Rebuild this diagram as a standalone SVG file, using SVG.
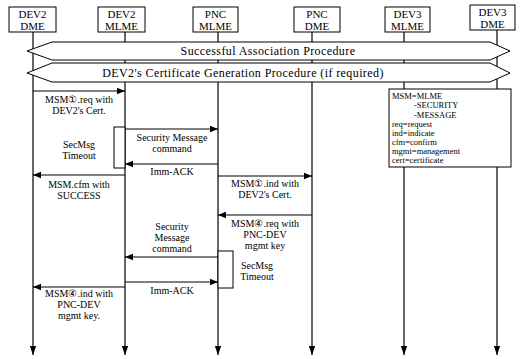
<svg xmlns="http://www.w3.org/2000/svg" width="524" height="359" viewBox="0 0 524 359">
<defs>
<marker id="ah" viewBox="0 0 10 10" refX="10" refY="5" markerWidth="8" markerHeight="8" markerUnits="userSpaceOnUse" orient="auto"><path d="M0,1 L10,5 L0,9 z" fill="#000"/></marker>
<marker id="ahl" viewBox="0 0 10 10" refX="10" refY="5" markerWidth="9" markerHeight="9" markerUnits="userSpaceOnUse" orient="auto"><path d="M0,1.5 L10,5 L0,8.5 z" fill="#000"/></marker>
<style>
text{font-family:"Liberation Serif","DejaVu Serif",serif;fill:#000}
.n{font-size:11px;text-anchor:middle}
.m{font-size:10px;text-anchor:middle}
.b{font-size:12px;text-anchor:middle;letter-spacing:0.4px}
.l{font-size:8.5px}
.box{fill:#fff;stroke:#000;stroke-width:1}
.life{stroke:#000;stroke-width:1.2;fill:none}
.msg{stroke:#000;stroke-width:1.2;fill:none}
</style>
</defs>
<rect width="524" height="359" fill="#fff"/>
<g id="lifelines">
<line class="life" x1="33" y1="32" x2="33" y2="355" marker-end="url(#ahl)"/>
<line class="life" x1="125" y1="32" x2="125" y2="355" marker-end="url(#ahl)"/>
<line class="life" x1="218" y1="32" x2="218" y2="355" marker-end="url(#ahl)"/>
<line class="life" x1="312" y1="32" x2="312" y2="355" marker-end="url(#ahl)"/>
<line class="life" x1="404" y1="32" x2="404" y2="355" marker-end="url(#ahl)"/>
<line class="life" x1="497" y1="30" x2="497" y2="355" marker-end="url(#ahl)"/>
</g>
<g id="dev2dme"><rect class="box" x="9" y="7" width="47" height="25"/><text class="n" x="32.5" y="17.5">DEV2</text><text class="n" x="32.5" y="30">DME</text></g>
<g id="dev2mlme"><rect class="box" x="98" y="7" width="47" height="25"/><text class="n" x="121.5" y="17.5">DEV2</text><text class="n" x="121.5" y="30">MLME</text></g>
<g id="pncmlme"><rect class="box" x="193" y="7" width="45" height="25"/><text class="n" x="215.5" y="17.5">PNC</text><text class="n" x="215.5" y="30">MLME</text></g>
<g id="pncdme"><rect class="box" x="294" y="7" width="46" height="25"/><text class="n" x="317" y="17.5">PNC</text><text class="n" x="317" y="30">DME</text></g>
<g id="dev3mlme"><rect class="box" x="385" y="7" width="45" height="25"/><text class="n" x="407.5" y="17.5">DEV3</text><text class="n" x="407.5" y="30">MLME</text></g>
<g id="dev3dme"><rect class="box" x="470" y="5" width="45" height="25"/><text class="n" x="492.5" y="15.5">DEV3</text><text class="n" x="492.5" y="28">DME</text></g>
<g id="banner1"><path class="box" d="M52,42 L490,42 L510,51 L490,60 L52,60 L27,51 Z"/><text class="b" x="268" y="55">Successful Association Procedure</text></g>
<g id="banner2"><path class="box" d="M52,63 L490,63 L510,73 L490,82 L52,82 L27,73 Z"/><text class="b" x="243" y="77">DEV2's Certificate Generation Procedure (if required)</text></g>
<g id="timeout1"><rect class="box" x="114" y="127" width="11" height="41"/><text class="m" x="79" y="148">SecMsg</text><text class="m" x="79" y="159">Timeout</text></g>
<g id="timeout2"><rect class="box" x="218" y="251" width="15" height="37"/><text class="m" x="257" y="269">SecMsg</text><text class="m" x="257" y="280">Timeout</text></g>
<g id="legend"><rect class="box" x="389" y="89" width="122" height="78"/>
<text class="l" x="392" y="98.5">MSM=MLME</text>
<text class="l" x="414" y="108">-SECURITY</text>
<text class="l" x="414" y="117.5">-MESSAGE</text>
<text class="l" x="392" y="127">req=request</text>
<text class="l" x="392" y="136">ind=indicate</text>
<text class="l" x="392" y="145">cfm=confirm</text>
<text class="l" x="392" y="154">mgmt=management</text>
<text class="l" x="392" y="163">cert=certificate</text>
</g>
<g id="connectors">
<line class="msg" x1="33" y1="91" x2="125" y2="91" marker-end="url(#ah)"/>
<line class="msg" x1="125" y1="129" x2="218" y2="129" marker-end="url(#ah)"/>
<line class="msg" x1="218" y1="164" x2="125" y2="164" marker-end="url(#ah)"/>
<line class="msg" x1="125" y1="175" x2="33" y2="175" marker-end="url(#ah)"/>
<line class="msg" x1="218" y1="176" x2="312" y2="176" marker-end="url(#ah)"/>
<line class="msg" x1="312" y1="215" x2="218" y2="215" marker-end="url(#ah)"/>
<line class="msg" x1="218" y1="257" x2="125" y2="257" marker-end="url(#ah)"/>
<line class="msg" x1="125" y1="282" x2="218" y2="282" marker-end="url(#ah)"/>
<line class="msg" x1="125" y1="287" x2="33" y2="287" marker-end="url(#ah)"/>
</g>
<g id="labels">
<text class="m" x="79" y="103">MSM①.req with</text>
<text class="m" x="79" y="114">DEV2's Cert.</text>
<text class="m" x="172" y="141">Security Message</text>
<text class="m" x="172" y="152">command</text>
<text class="m" x="172" y="175">Imm-ACK</text>
<text class="m" x="79" y="188">MSM.cfm with</text>
<text class="m" x="79" y="199">SUCCESS</text>
<text class="m" x="265" y="187">MSM①.ind with</text>
<text class="m" x="265" y="198">DEV2's Cert.</text>
<text class="m" x="265" y="227">MSM④.req with</text>
<text class="m" x="265" y="238">PNC-DEV</text>
<text class="m" x="265" y="249">mgmt key</text>
<text class="m" x="172" y="230">Security</text>
<text class="m" x="172" y="241">Message</text>
<text class="m" x="172" y="252">command</text>
<text class="m" x="172" y="294">Imm-ACK</text>
<text class="m" x="79" y="297">MSM④.ind with</text>
<text class="m" x="79" y="308">PNC-DEV</text>
<text class="m" x="79" y="319">mgmt key.</text>
</g>
</svg>
